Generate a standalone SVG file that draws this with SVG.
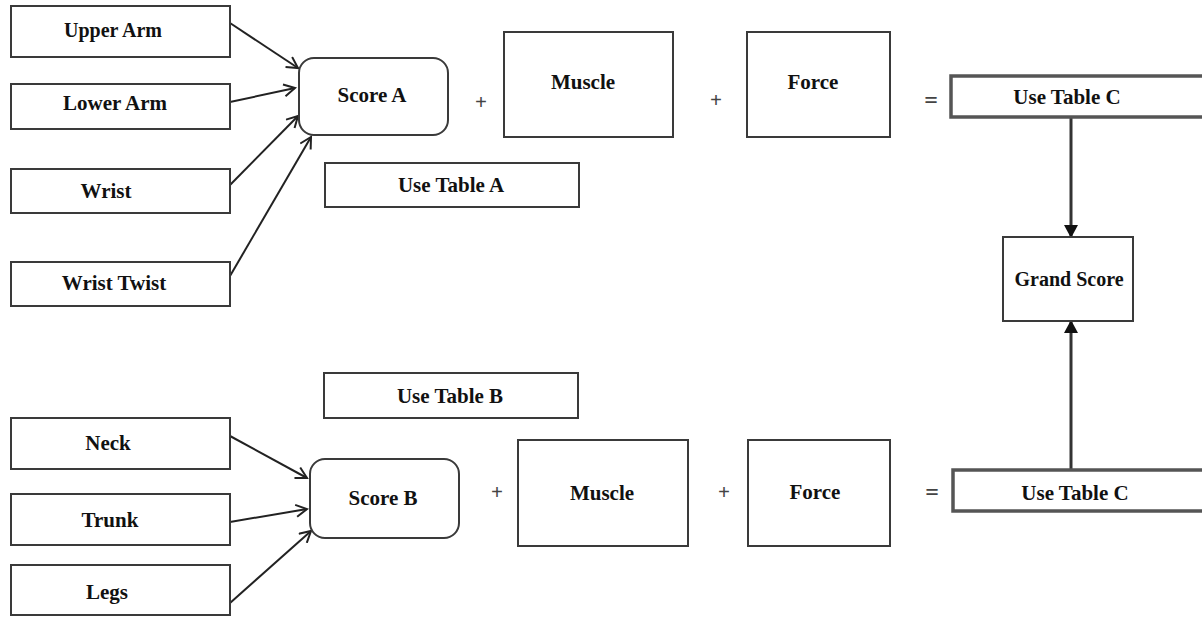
<svg xmlns="http://www.w3.org/2000/svg" width="1202" height="618" viewBox="0 0 1202 618">
<defs>
<style>
.box{fill:#fff;stroke:#3a3a3a;stroke-width:2}
.thick{fill:#fff;stroke:#555;stroke-width:3.5}
.lbl{font-family:"Liberation Serif",serif;font-weight:bold;font-size:21px;fill:#111;text-anchor:middle}
.op{font-family:"Liberation Serif",serif;font-weight:bold;font-size:21px;fill:#444;text-anchor:middle}
.eq{font-family:"Liberation Serif",serif;font-weight:bold;font-size:24px;fill:#444;text-anchor:middle}
.con{stroke:#222;stroke-width:2;fill:none}
.conv{stroke:#333;stroke-width:3;fill:none}
</style>
<marker id="open" markerWidth="14" markerHeight="14" refX="12" refY="7" orient="auto" markerUnits="userSpaceOnUse">
<path d="M1,1 L12,7 L1,13" fill="none" stroke="#222" stroke-width="2"/>
</marker>
<marker id="solid" markerWidth="14" markerHeight="14" refX="12" refY="7" orient="auto" markerUnits="userSpaceOnUse">
<path d="M0,0 L13,7 L0,14 Z" fill="#111"/>
</marker>
</defs>
<rect width="1202" height="618" fill="#fff"/>
<g id="connectors">
<line class="con" x1="230" y1="23" x2="298" y2="68" marker-end="url(#open)"/>
<line class="con" x1="230" y1="102" x2="295" y2="88" marker-end="url(#open)"/>
<line class="con" x1="230" y1="185" x2="298" y2="116" marker-end="url(#open)"/>
<line class="con" x1="230" y1="276" x2="311" y2="137" marker-end="url(#open)"/>
<line class="con" x1="230" y1="436" x2="307" y2="478" marker-end="url(#open)"/>
<line class="con" x1="230" y1="522" x2="307" y2="509" marker-end="url(#open)"/>
<line class="con" x1="230" y1="603" x2="311" y2="531" marker-end="url(#open)"/>
<line class="conv" x1="1071" y1="118" x2="1071" y2="237" marker-end="url(#solid)"/>
<line class="conv" x1="1071" y1="469" x2="1071" y2="321" marker-end="url(#solid)"/>
</g>
<g id="upper-arm"><rect class="box" x="11" y="6" width="219" height="51"/><text class="lbl" x="113" y="37" style="font-size:20px">Upper Arm</text></g>
<g id="lower-arm"><rect class="box" x="11" y="84" width="219" height="45"/><text class="lbl" x="115" y="110">Lower Arm</text></g>
<g id="wrist"><rect class="box" x="11" y="169" width="219" height="44"/><text class="lbl" x="106" y="198">Wrist</text></g>
<g id="wrist-twist"><rect class="box" x="11" y="262" width="219" height="44"/><text class="lbl" x="114" y="290">Wrist Twist</text></g>
<g id="score-a"><rect class="box" x="299" y="58" width="149" height="77" rx="15"/><text class="lbl" x="372" y="102">Score A</text></g>
<g id="use-table-a"><rect class="box" x="325" y="163" width="254" height="44"/><text class="lbl" x="451" y="192">Use Table A</text></g>
<g id="plus-a1"><text class="op" x="481" y="109">+</text></g>
<g id="muscle-a"><rect class="box" x="504" y="32" width="169" height="105"/><text class="lbl" x="583" y="89">Muscle</text></g>
<g id="plus-a2"><text class="op" x="716" y="107">+</text></g>
<g id="force-a"><rect class="box" x="747" y="32" width="143" height="105"/><text class="lbl" x="813" y="89">Force</text></g>
<g id="eq-a"><text class="eq" x="931" y="108">=</text></g>
<g id="use-table-c-top"><rect class="thick" x="951" y="76" width="253" height="41"/><text class="lbl" x="1067" y="104">Use Table C</text></g>
<g id="grand-score"><rect class="box" x="1003" y="237" width="130" height="84"/><text class="lbl" x="1069" y="286" style="font-size:20px">Grand Score</text></g>
<g id="use-table-b"><rect class="box" x="324" y="373" width="254" height="45"/><text class="lbl" x="450" y="403">Use Table B</text></g>
<g id="neck"><rect class="box" x="11" y="418" width="219" height="51"/><text class="lbl" x="108" y="450">Neck</text></g>
<g id="trunk"><rect class="box" x="11" y="494" width="219" height="51"/><text class="lbl" x="110" y="527">Trunk</text></g>
<g id="legs"><rect class="box" x="11" y="565" width="219" height="50"/><text class="lbl" x="107" y="599">Legs</text></g>
<g id="score-b"><rect class="box" x="310" y="459" width="149" height="79" rx="15"/><text class="lbl" x="383" y="505">Score B</text></g>
<g id="plus-b1"><text class="op" x="497" y="499">+</text></g>
<g id="muscle-b"><rect class="box" x="518" y="440" width="170" height="106"/><text class="lbl" x="602" y="500">Muscle</text></g>
<g id="plus-b2"><text class="op" x="724" y="499">+</text></g>
<g id="force-b"><rect class="box" x="748" y="440" width="142" height="106"/><text class="lbl" x="815" y="499">Force</text></g>
<g id="eq-b"><text class="eq" x="932" y="500">=</text></g>
<g id="use-table-c-bottom"><rect class="thick" x="953" y="470" width="251" height="41"/><text class="lbl" x="1075" y="500">Use Table C</text></g>
</svg>
